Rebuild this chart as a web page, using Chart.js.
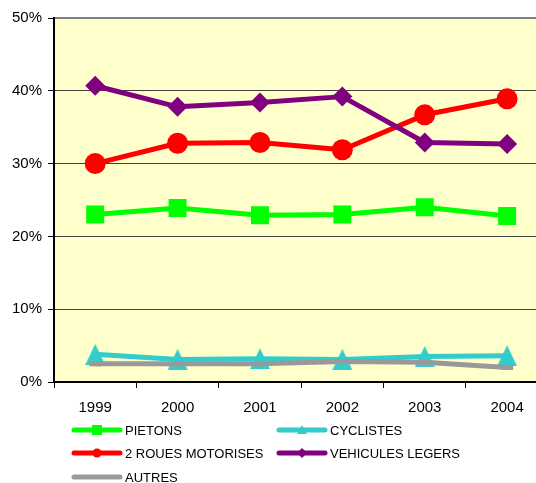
<!DOCTYPE html>
<html>
<head>
<meta charset="utf-8">
<script src="https://cdn.jsdelivr.net/npm/chart.js@4.4.1/dist/chart.umd.min.js"></script>
<style>
  html, body { margin: 0; padding: 0; background: #fff; overflow: hidden; }
  #wrap { width: 561px; height: 483px; }
</style>
</head>
<body>
<div id="wrap"><canvas id="chart" width="561" height="483"></canvas></div>
<script>
// Values (percent)
const years = ['1999', '2000', '2001', '2002', '2003', '2004'];
const pietons = [23.0, 23.9, 22.9, 23.0, 24.0, 22.8];
const cyclistes = [3.8, 3.1, 3.2, 3.1, 3.5, 3.6];
const deuxRoues = [30.0, 32.8, 32.9, 31.9, 36.7, 38.9];
const vehicules = [40.7, 37.8, 38.4, 39.2, 32.9, 32.7];
const autres = [2.5, 2.5, 2.5, 2.8, 2.7, 2.0];
const yTicks = [0, 10, 20, 30, 40, 50];

const FONT = '"Liberation Sans", Arial, Helvetica, sans-serif';

// Excel-like triangle marker, centred in its box
function makeTriangle(color, w, h) {
    const c = document.createElement('canvas');
    c.width = w;
    c.height = h;
    const g = c.getContext('2d');
    g.fillStyle = color;
    g.beginPath();
    g.moveTo(w / 2, 0);
    g.lineTo(w, h);
    g.lineTo(0, h);
    g.closePath();
    g.fill();
    return c;
}

// Small marker used in the legend
function drawMini(ctx, kind, x, y, color) {
    ctx.fillStyle = color;
    ctx.beginPath();
    if (kind === 'rect') {
        ctx.rect(x - 5, y - 5, 10, 10);
    } else if (kind === 'circle') {
        ctx.arc(x, y, 4.5, 0, Math.PI * 2);
    } else if (kind === 'rectRot') {
        ctx.moveTo(x - 5, y);
        ctx.lineTo(x, y - 5);
        ctx.lineTo(x + 5, y);
        ctx.lineTo(x, y + 5);
        ctx.closePath();
    } else if (kind === 'triangle') {
        ctx.moveTo(x, y - 5);
        ctx.lineTo(x + 5, y + 4);
        ctx.lineTo(x - 5, y + 4);
        ctx.closePath();
    } else {
        return;
    }
    ctx.fill();
}

const plotBackground = {
    id: 'plotBackground',
    beforeDraw(chart) {
        const { ctx, chartArea: a } = chart;
        ctx.save();
        ctx.fillStyle = '#FFFFCC';
        ctx.fillRect(a.left, a.top, a.right - a.left, a.bottom - a.top);
        ctx.restore();
    },
    beforeDatasetsDraw(chart) {
        const { ctx, chartArea: a } = chart;
        ctx.save();
        ctx.strokeStyle = '#808080';
        ctx.lineWidth = 2;
        ctx.beginPath();
        ctx.moveTo(a.left + 1, a.top);
        ctx.lineTo(a.right, a.top);
        ctx.stroke();
        ctx.restore();
    }
};

// Two-column legend laid out like the spreadsheet one
const legendSlots = [
    { x: 72, y: 430 }, { x: 277, y: 430 },
    { x: 72, y: 453 }, { x: 277, y: 453 },
    { x: 72, y: 477 }
];
const excelLegend = {
    id: 'excelLegend',
    afterDraw(chart) {
        const ctx = chart.ctx;
        chart.data.datasets.forEach((ds, i) => {
            const s = legendSlots[i];
            ctx.save();
            ctx.strokeStyle = ds.borderColor;
            ctx.lineWidth = 5;
            ctx.lineCap = 'round';
            ctx.beginPath();
            ctx.moveTo(s.x + 2, s.y);
            ctx.lineTo(s.x + 48, s.y);
            ctx.stroke();
            drawMini(ctx, ds.legendMarker, s.x + 25, s.y, ds.borderColor);
            ctx.fillStyle = '#000';
            ctx.font = '13px ' + FONT;
            ctx.textBaseline = 'middle';
            ctx.fillText(ds.label, s.x + 53, s.y + 1);
            ctx.restore();
        });
    }
};

function series(label, data, color, style, radius, order, marker) {
    return {
        label: label,
        data: data,
        borderColor: color,
        backgroundColor: color,
        borderWidth: 5,
        pointStyle: style,
        pointRadius: radius,
        pointBorderWidth: 0,
        pointBackgroundColor: color,
        pointBorderColor: color,
        borderJoinStyle: 'round',
        tension: 0,
        order: order,
        legendMarker: marker
    };
}

const autresSet = series('AUTRES', autres, '#999999', 'line', 6, 1, 'none');
autresSet.pointBorderWidth = 5;

const ctx = document.getElementById('chart').getContext('2d');
new Chart(ctx, {
    type: 'line',
    data: {
        labels: years,
        datasets: [
            series('PIETONS', pietons, '#00FF00', 'rect', 12.7, 5, 'rect'),
            series('CYCLISTES', cyclistes, '#33CCCC', makeTriangle('#33CCCC', 20, 21), 10, 4, 'triangle'),
            series('2 ROUES MOTORISES', deuxRoues, '#FF0000', 'circle', 10.5, 3, 'circle'),
            series('VEHICULES LEGERS', vehicules, '#800080', 'rectRot', 10, 2, 'rectRot'),
            autresSet
        ]
    },
    options: {
        responsive: false,
        animation: false,
        layout: { padding: { top: 18, right: 3, left: 0, bottom: 0 } },
        plugins: {
            legend: { display: false },
            tooltip: { enabled: false }
        },
        scales: {
            x: {
                type: 'category',
                offset: true,
                grid: {
                    offset: true,
                    drawOnChartArea: false,
                    tickLength: 6,
                    tickColor: '#000'
                },
                border: { color: '#000', width: 2 },
                ticks: {
                    color: '#000',
                    font: { family: FONT, size: 15 },
                    padding: 11,
                    maxRotation: 0
                },
                afterFit(scale) { scale.height = 101; }
            },
            y: {
                min: 0,
                max: 50,
                afterBuildTicks(scale) {
                    scale.ticks = yTicks.map(v => ({ value: v }));
                },
                grid: {
                    color: '#404040',
                    lineWidth: 1,
                    tickLength: 6,
                    tickColor: '#000'
                },
                border: { color: '#000', width: 2 },
                ticks: {
                    color: '#000',
                    font: { family: FONT, size: 15 },
                    padding: 6,
                    callback: v => v + '%'
                },
                afterFit(scale) { scale.width = 54; }
            }
        }
    },
    plugins: [plotBackground, excelLegend]
});
</script>
</body>
</html>
